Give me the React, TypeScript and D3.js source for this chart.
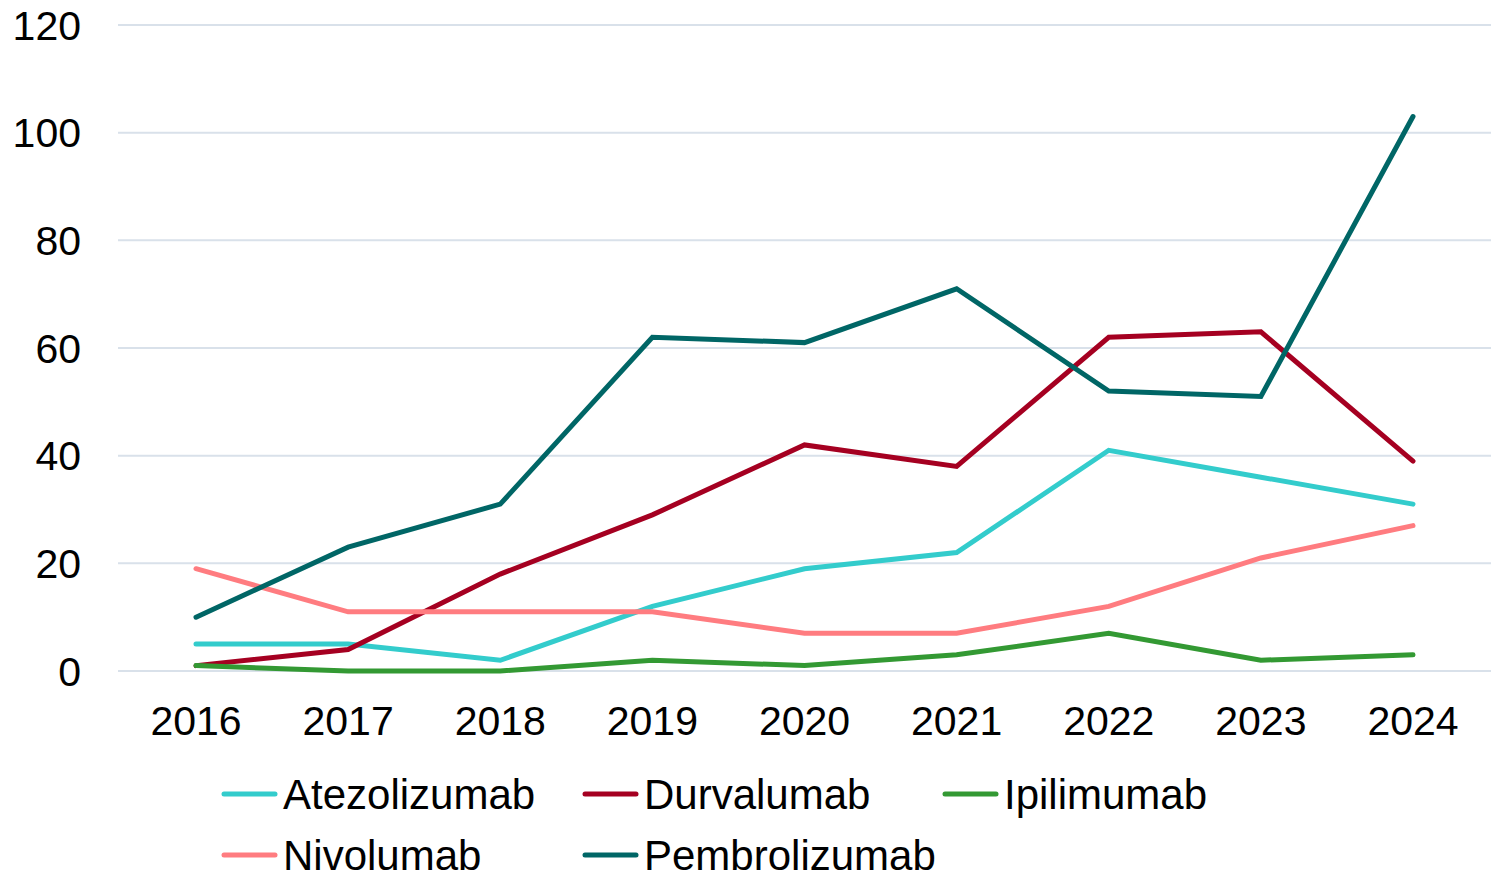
import React from "react";
import * as d3 from "d3";

const years = ["2016", "2017", "2018", "2019", "2020", "2021", "2022", "2023", "2024"];
const atezolizumab = [5, 5, 2, 12, 19, 22, 41, 36, 31];
const durvalumab = [1, 4, 18, 29, 42, 38, 62, 63, 39];
const ipilimumab = [1, 0, 0, 2, 1, 3, 7, 2, 3];
const nivolumab = [19, 11, 11, 11, 7, 7, 12, 21, 27];
const pembrolizumab = [10, 23, 31, 62, 61, 71, 52, 51, 103];
const yTicks = [0, 20, 40, 60, 80, 100, 120];

const series = [
  { name: "Atezolizumab", values: atezolizumab, color: "#33CCCC" },
  { name: "Durvalumab", values: durvalumab, color: "#A50021" },
  { name: "Ipilimumab", values: ipilimumab, color: "#339933" },
  { name: "Nivolumab", values: nivolumab, color: "#FF7C80" },
  { name: "Pembrolizumab", values: pembrolizumab, color: "#006666" },
];

const W = 1491;
const H = 876;
const FONT = "'Liberation Sans', Arial, sans-serif";

export default function App() {
  const x = d3.scalePoint<string>().domain(years).range([196, 1413]);
  const xc = (d: string) => x(d) as number;
  const y = d3.scaleLinear().domain([0, 120]).range([671, 25]);
  const line = d3
    .line<number>()
    .x((_, i) => xc(years[i]))
    .y((v) => y(v));

  const legendPos = [
    { x: 222, y: 794 },
    { x: 583, y: 794 },
    { x: 943, y: 794 },
    { x: 222, y: 855 },
    { x: 583, y: 855 },
  ];

  return (
    <svg
      width={W}
      height={H}
      style={{ position: "absolute", left: 0, top: 0, background: "#fff" }}
      fontFamily={FONT}
    >
      {yTicks.map((t) => (
        <g key={t}>
          <line x1={118} x2={1491} y1={y(t)} y2={y(t)} stroke="#D9E1EA" strokeWidth={2} />
          <text x={81} y={y(t)} dy="0.36em" textAnchor="end" fontSize={41} fill="#000">
            {t}
          </text>
        </g>
      ))}
      {years.map((yr) => (
        <text key={yr} x={xc(yr)} y={735} textAnchor="middle" fontSize={41} fill="#000">
          {yr}
        </text>
      ))}
      {series.map((s) => (
        <path
          key={s.name}
          d={line(s.values) || ""}
          fill="none"
          stroke={s.color}
          strokeWidth={5}
          strokeLinecap="round"
          strokeLinejoin="miter"
        />
      ))}
      {series.map((s, i) => (
        <g key={s.name} transform={`translate(${legendPos[i].x},${legendPos[i].y})`}>
          <line x1={2} x2={53} y1={0} y2={0} stroke={s.color} strokeWidth={5} strokeLinecap="round" />
          <text x={61} y={0} dy="0.36em" fontSize={42} fill="#000">
            {s.name}
          </text>
        </g>
      ))}
    </svg>
  );
}
